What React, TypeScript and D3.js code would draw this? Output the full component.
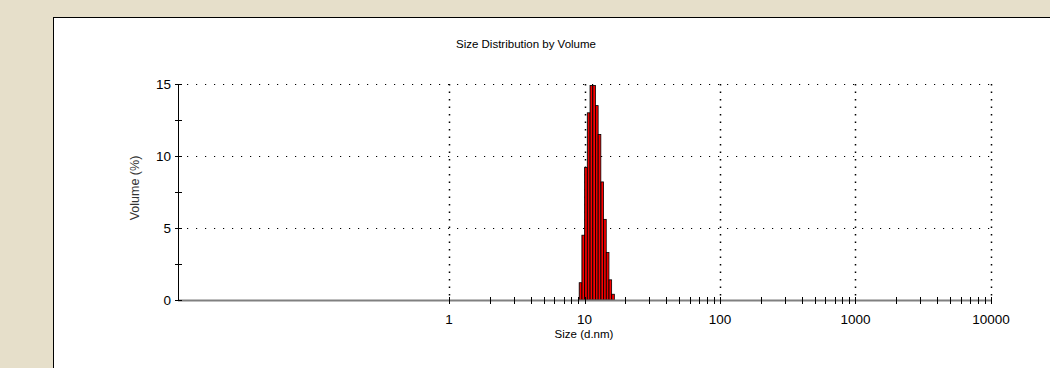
import * as d3 from 'd3';
import { useEffect, useRef } from 'react';

// bin centres (d.nm) and volume %
const sizeBins = [9.35, 9.79, 10.25, 10.73, 11.24, 11.77, 12.32, 12.9, 13.51, 14.14, 14.81, 15.5, 16.23];
const volumePct = [1.2, 4.5, 9.2, 13.0, 14.9, 14.9, 13.5, 11.5, 8.2, 5.6, 3.3, 1.4, 0.4];

const yTicks = [0, 5, 10, 15];
const yMinorTicks = [2.5, 7.5, 12.5];
const xTicks = [1, 10, 100, 1000, 10000];
const xDomain: [number, number] = [0.01, 10000];

export default function App() {
  const ref = useRef<SVGSVGElement | null>(null);

  useEffect(() => {
    document.body.style.margin = '0';
    const svg = d3.select(ref.current);
    svg.selectAll('*').remove();
    const width = 1050;
    const height = 368;
    const font = 'Arial, "Liberation Sans", sans-serif';

    svg.append('rect').attr('width', width).attr('height', height).attr('fill', '#e6dfca');
    svg
      .append('rect')
      .attr('x', 53.5)
      .attr('y', 17.5)
      .attr('width', 1100)
      .attr('height', 400)
      .attr('fill', '#fff')
      .attr('stroke', '#000');

    const x = d3.scaleLog().domain(xDomain).range([178, 991]);
    const y = d3.scaleLinear().domain([0, 15]).range([300, 84]);
    const [x0, x1] = x.range();

    // grid
    svg
      .append('g')
      .selectAll('line')
      .data(yTicks.filter((d) => d > 0))
      .enter()
      .append('line')
      .attr('x1', x0)
      .attr('x2', x1)
      .attr('y1', (d) => y(d) + 0.5)
      .attr('y2', (d) => y(d) + 0.5)
      .attr('stroke', '#000')
      .attr('stroke-dasharray', '1.2,7.8');
    svg
      .append('g')
      .selectAll('line')
      .data(xTicks)
      .enter()
      .append('line')
      .attr('x1', (d) => Math.round(x(d)) + 0.5)
      .attr('x2', (d) => Math.round(x(d)) + 0.5)
      .attr('y1', y(15))
      .attr('y2', y(0))
      .attr('stroke', '#000')
      .attr('stroke-width', 1.5)
      .attr('stroke-dasharray', '1.5,6');

    // bars
    const defs = svg.append('defs');
    const grad = defs.append('linearGradient').attr('id', 'barFill').attr('x1', '0').attr('x2', '1');
    grad.append('stop').attr('offset', '0').attr('stop-color', '#a80000');
    grad.append('stop').attr('offset', '0.35').attr('stop-color', '#e00000');
    grad.append('stop').attr('offset', '0.6').attr('stop-color', '#ff0000');
    const ratio = Math.sqrt(sizeBins[1] / sizeBins[0]);
    const bars = sizeBins.map((s, i) => ({ lo: s / ratio, hi: s * ratio, v: volumePct[i] }));
    svg
      .append('g')
      .selectAll('rect')
      .data(bars)
      .enter()
      .append('rect')
      .attr('x', (d) => x(d.lo))
      .attr('y', (d) => y(d.v))
      .attr('width', (d) => x(d.hi) - x(d.lo))
      .attr('height', (d) => y(0) - y(d.v))
      .attr('fill', 'url(#barFill)')
      .attr('stroke', '#000')
      .attr('stroke-width', 0.8);

    // axes
    svg
      .append('line')
      .attr('x1', x0)
      .attr('x2', x1)
      .attr('y1', y(0) + 0.5)
      .attr('y2', y(0) + 0.5)
      .attr('stroke', '#808080')
      .attr('stroke-width', 2);
    svg
      .append('line')
      .attr('x1', x0 + 0.5)
      .attr('x2', x0 + 0.5)
      .attr('y1', y(15))
      .attr('y2', y(0))
      .attr('stroke', '#000');

    const yAll = [...yTicks, ...yMinorTicks];
    svg
      .append('g')
      .selectAll('line')
      .data(yAll)
      .enter()
      .append('line')
      .attr('x1', x0 - 3)
      .attr('x2', x0 + 4)
      .attr('y1', (d) => Math.round(y(d)) + 0.5)
      .attr('y2', (d) => Math.round(y(d)) + 0.5)
      .attr('stroke', '#000');

    const minor: number[] = [];
    xTicks.slice(0, -1).forEach((t) => {
      for (let k = 2; k <= 9; k++) minor.push(t * k);
    });
    svg
      .append('g')
      .selectAll('line')
      .data([...xTicks, ...minor])
      .enter()
      .append('line')
      .attr('x1', (d) => Math.round(x(d)) + 0.5)
      .attr('x2', (d) => Math.round(x(d)) + 0.5)
      .attr('y1', y(0) - 3)
      .attr('y2', y(0) + 4)
      .attr('stroke', '#000');

    // tick labels
    svg
      .append('g')
      .selectAll('text')
      .data(yTicks)
      .enter()
      .append('text')
      .attr('x', x0 - 7)
      .attr('y', (d) => y(d) + 5)
      .attr('text-anchor', 'end')
      .attr('font-family', font)
      .attr('font-size', 13.5)
      .attr('fill', '#000')
      .text((d) => d);
    svg
      .append('g')
      .selectAll('text')
      .data(xTicks)
      .enter()
      .append('text')
      .attr('x', (d) => x(d))
      .attr('y', 324)
      .attr('text-anchor', 'middle')
      .attr('font-family', font)
      .attr('font-size', 13.5)
      .attr('fill', '#000')
      .text((d) => d);

    // titles
    svg
      .append('text')
      .attr('x', 526)
      .attr('y', 48)
      .attr('text-anchor', 'middle')
      .attr('font-family', font)
      .attr('font-size', 11.5)
      .attr('fill', '#000')
      .text('Size Distribution by Volume');
    svg
      .append('text')
      .attr('x', 584)
      .attr('y', 338)
      .attr('text-anchor', 'middle')
      .attr('font-family', font)
      .attr('font-size', 11.5)
      .attr('fill', '#000')
      .text('Size (d.nm)');
    svg
      .append('text')
      .attr('transform', 'translate(139,188) rotate(-90)')
      .attr('text-anchor', 'middle')
      .attr('font-family', font)
      .attr('font-size', 12.5)
      .attr('fill', '#333')
      .text('Volume (%)');
  }, []);

  return <svg ref={ref} width={1050} height={368} style={{ display: 'block' }} />;
}
